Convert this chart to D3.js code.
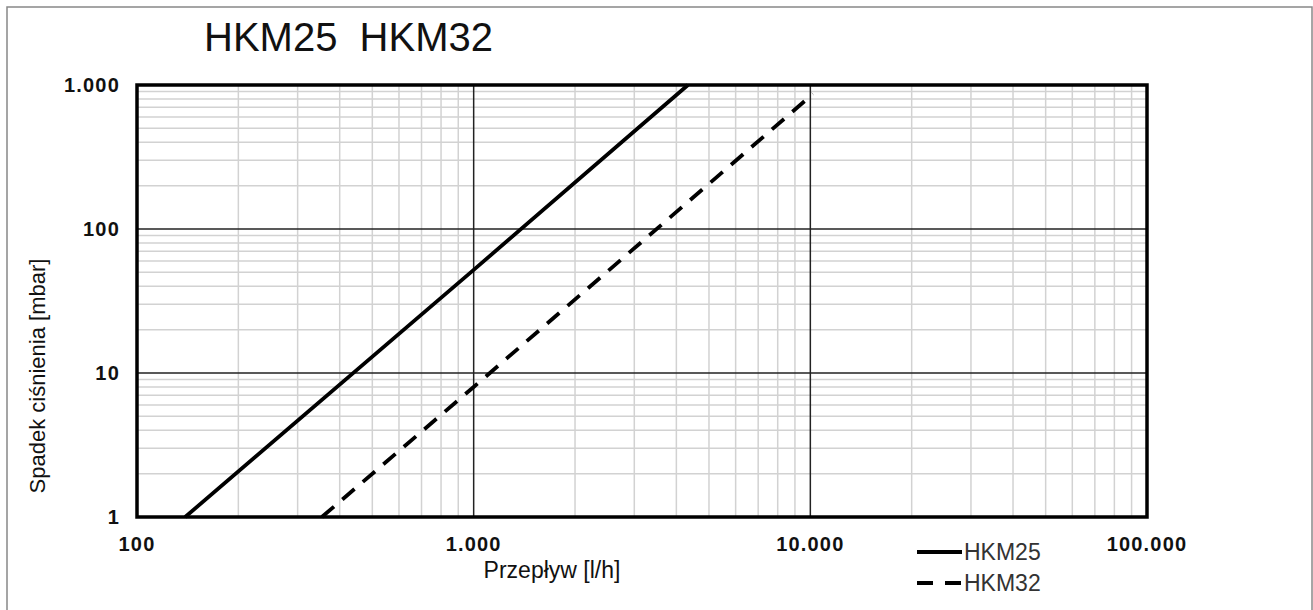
<!DOCTYPE html>
<html lang="pl">
<head>
    <meta charset="UTF-8">
    <script src="https://d3js.org/d3.v7.min.js"></script>
    <title>HKM25 HKM32</title>
    <style>
        body { margin: 0; background: #fff; }
        svg { display: block; font-family: "Liberation Sans", Arial, sans-serif; }
    </style>
</head>
<body>
    <div class="fig"></div>
    <script>
        // flow [l/h] vs pressure drop [mbar]
        const hkm25Flow = [139, 1000, 4330];
        const hkm25Drop = [1, 52, 1000];
        const hkm32Flow = [354, 1000, 10180];
        const hkm32Drop = [1, 8, 866];

        const xTicks = [100, 1000, 10000, 100000];
        const xTickLabels = ["100", "1.000", "10.000", "100.000"];
        const yTicks = [1, 10, 100, 1000];
        const yTickLabels = ["1", "10", "100", "1.000"];

        const seriesNames = ["HKM25", "HKM32"];

        const width = 1313, height = 610;
        const plot = { left: 137, right: 1147, top: 85, bottom: 517 };

        const svg = d3.select(".fig").append("svg")
            .attr("width", width)
            .attr("height", height);

        // outer frame (bottom edge runs off the picture)
        svg.append("rect")
            .attr("x", 7).attr("y", 7)
            .attr("width", 1305).attr("height", 640)
            .attr("fill", "none")
            .attr("stroke", "#888")
            .attr("stroke-width", 1.5);

        const x = d3.scaleLog().domain([100, 100000]).range([plot.left, plot.right]);
        const y = d3.scaleLog().domain([1, 1000]).range([plot.bottom, plot.top]);

        // minor grid 2..9 per decade
        const minorX = [], minorY = [];
        xTicks.slice(0, -1).forEach(d => { for (let k = 2; k <= 9; k++) minorX.push(d * k); });
        yTicks.slice(0, -1).forEach(d => { for (let k = 2; k <= 9; k++) minorY.push(d * k); });

        const grid = svg.append("g");
        grid.selectAll(".vminor").data(minorX).enter().append("line")
            .attr("x1", d => x(d)).attr("x2", d => x(d))
            .attr("y1", plot.top).attr("y2", plot.bottom)
            .attr("stroke", "#d2d2d2").attr("stroke-width", 1.5);
        grid.selectAll(".hminor").data(minorY).enter().append("line")
            .attr("y1", d => y(d)).attr("y2", d => y(d))
            .attr("x1", plot.left).attr("x2", plot.right)
            .attr("stroke", "#d2d2d2").attr("stroke-width", 1.5);
        grid.selectAll(".vmajor").data(xTicks.slice(1, -1)).enter().append("line")
            .attr("x1", d => x(d)).attr("x2", d => x(d))
            .attr("y1", plot.top).attr("y2", plot.bottom)
            .attr("stroke", "#222").attr("stroke-width", 1.5);
        grid.selectAll(".hmajor").data(yTicks.slice(1, -1)).enter().append("line")
            .attr("y1", d => y(d)).attr("y2", d => y(d))
            .attr("x1", plot.left).attr("x2", plot.right)
            .attr("stroke", "#222").attr("stroke-width", 1.5);

        // curves
        const line = d3.line().x(d => x(d[0])).y(d => y(d[1]));
        const hkm25 = hkm25Flow.map((f, i) => [f, hkm25Drop[i]]);
        const hkm32 = hkm32Flow.map((f, i) => [f, hkm32Drop[i]]);

        svg.append("path")
            .attr("d", line(hkm25))
            .attr("fill", "none").attr("stroke", "#000").attr("stroke-width", 3.8);
        svg.append("path")
            .attr("d", line(hkm32))
            .attr("fill", "none").attr("stroke", "#000").attr("stroke-width", 3.8)
            .attr("stroke-dasharray", "16,11");

        // plot frame
        svg.append("rect")
            .attr("x", plot.left).attr("y", plot.top)
            .attr("width", plot.right - plot.left).attr("height", plot.bottom - plot.top)
            .attr("fill", "none").attr("stroke", "#000").attr("stroke-width", 3.5);

        // tick labels
        svg.selectAll(".xlab").data(xTicks).enter().append("text")
            .attr("x", d => x(d)).attr("y", 551)
            .attr("text-anchor", "middle")
            .attr("font-size", 20).attr("font-weight", "bold")
            .attr("letter-spacing", 1.2)
            .attr("fill", "#111")
            .text((d, i) => xTickLabels[i]);
        svg.selectAll(".ylab").data(yTicks).enter().append("text")
            .attr("x", 120).attr("y", d => y(d))
            .attr("dy", "0.35em")
            .attr("text-anchor", "end")
            .attr("font-size", 20).attr("font-weight", "bold")
            .attr("letter-spacing", 1.2)
            .attr("fill", "#111")
            .text((d, i) => yTickLabels[i]);

        // titles
        svg.append("text")
            .attr("x", 204).attr("y", 51)
            .attr("font-size", 40).attr("fill", "#111")
            .attr("xml:space", "preserve")
            .text("HKM25  HKM32");
        svg.append("text")
            .attr("x", 552).attr("y", 578)
            .attr("text-anchor", "middle")
            .attr("font-size", 23).attr("fill", "#111")
            .text("Przepływ [l/h]");
        svg.append("text")
            .attr("transform", "translate(45,376) rotate(-90)")
            .attr("text-anchor", "middle")
            .attr("font-size", 22).attr("fill", "#111")
            .text("Spadek ciśnienia [mbar]");

        // legend
        const legend = svg.append("g");
        seriesNames.forEach((name, i) => {
            const ly = 552 + i * 31;
            legend.append("line")
                .attr("x1", 917).attr("x2", 962)
                .attr("y1", ly).attr("y2", ly)
                .attr("stroke", "#000").attr("stroke-width", 4)
                .attr("stroke-dasharray", i === 1 ? "16,12" : null);
            legend.append("text")
                .attr("x", 964).attr("y", ly)
                .attr("dy", "0.36em")
                .attr("font-size", 23).attr("fill", "#333")
                .text(name);
        });
    </script>
</body>
</html>
